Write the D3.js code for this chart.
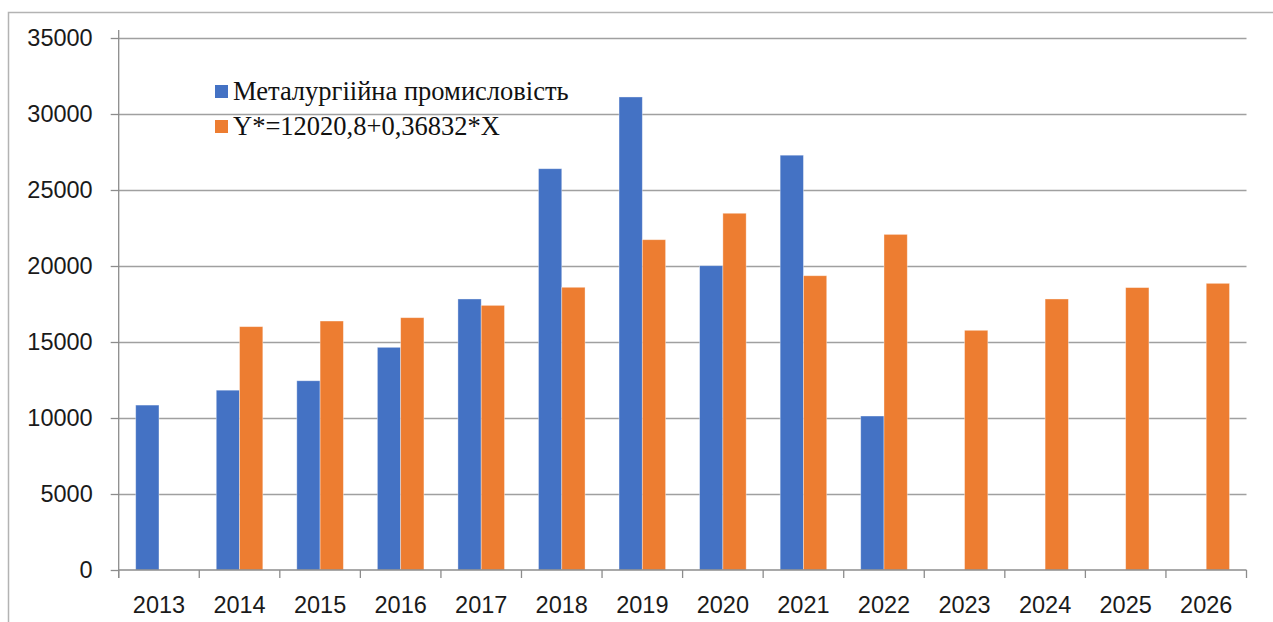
<!DOCTYPE html>
<html>
<head>
<meta charset="utf-8">
<script src="https://cdn.jsdelivr.net/npm/d3@7"></script>
<style>
  html, body { margin: 0; padding: 0; background: #ffffff; }
  svg { display: block; }
</style>
</head>
<body>
<svg id="chart" width="1273" height="622"></svg>
<script>
// ---- data ----
const years = ["2013","2014","2015","2016","2017","2018","2019","2020","2021","2022","2023","2024","2025","2026"];
const seriesNames = ["Металургіійна промисловість", "Y*=12020,8+0,36832*X"];
const actualValues = [10850, 11830, 12450, 14650, 17830, 26400, 31120, 20020, 27290, 10130, null, null, null, null];
const trendValues  = [null, 16010, 16380, 16600, 17410, 18600, 21730, 23470, 19360, 22080, 15770, 17830, 18580, 18860];
const yTicks = [0, 5000, 10000, 15000, 20000, 25000, 30000, 35000];
const seriesColors = ["#4472C4", "#ED7D31"];

// ---- layout ----
const svg = d3.select("#chart");
const W = 1273, H = 622;
const plot = { left: 118.7, right: 1246.5, top: 38, bottom: 570 };

// chart frame
svg.append("path")
  .attr("d", `M8.5,${H + 2} V12.5 H${W + 2}`)
  .attr("fill", "none")
  .attr("stroke", "#b3b3b3")
  .attr("stroke-width", 1.5);

const x0 = d3.scaleBand().domain(years).range([plot.left, plot.right]).padding(0);
const x1 = d3.scaleBand().domain([0, 1]).range([0, x0.bandwidth()]).paddingInner(0).paddingOuter(0.73);
const y = d3.scaleLinear().domain([0, 35000]).range([plot.bottom, plot.top]);

// gridlines
svg.append("g").selectAll("line").data(yTicks.filter(t => t > 0)).join("line")
  .attr("x1", plot.left).attr("x2", plot.right)
  .attr("y1", d => Math.round(y(d)) + 0.5).attr("y2", d => Math.round(y(d)) + 0.5)
  .attr("stroke", "#a0a0a0").attr("stroke-width", 1.3);

// bars
const rows = years.map((yr, i) => ({ yr, vals: [actualValues[i], trendValues[i]] }));
const g = svg.append("g");
rows.forEach(r => {
  r.vals.forEach((v, s) => {
    if (v == null) return;
    g.append("rect")
      .attr("x", x0(r.yr) + x1(s))
      .attr("y", y(v))
      .attr("width", x1.bandwidth())
      .attr("height", y(0) - y(v))
      .attr("fill", seriesColors[s])
      .attr("stroke", "rgba(255,255,255,0.45)")
      .attr("stroke-width", 0.8);
  });
});

// y axis
const yAxis = d3.axisLeft(y).tickValues(yTicks).tickSize(8).tickPadding(18).tickFormat(d3.format("d"));
const ya = svg.append("g").attr("transform", `translate(${plot.left},0)`).call(yAxis);
ya.select(".domain").attr("stroke", "#8c8c8c").attr("stroke-width", 1.3).attr("d", `M-0,${plot.bottom + 8}V${plot.top - 8}`);
ya.selectAll(".tick line").attr("stroke", "#8c8c8c").attr("stroke-width", 1.3);
ya.selectAll(".tick text")
  .attr("font-family", "'Liberation Sans', Arial, sans-serif")
  .attr("font-size", 23.5)
  .attr("fill", "#1a1a1a");

// x axis
const xa = svg.append("g").attr("transform", `translate(0,${plot.bottom})`);
xa.append("line").attr("x1", plot.left).attr("x2", plot.right).attr("y1", 0).attr("y2", 0)
  .attr("stroke", "#8c8c8c").attr("stroke-width", 1.3);
const bounds = years.map(d => x0(d)).concat([x0.range()[1]]);
xa.selectAll("line.tk").data(bounds).join("line").attr("class", "tk")
  .attr("x1", d => d).attr("x2", d => d).attr("y1", 0).attr("y2", 8)
  .attr("stroke", "#8c8c8c").attr("stroke-width", 1.3);
xa.selectAll("text").data(years).join("text")
  .attr("x", d => x0(d) + x0.bandwidth() / 2)
  .attr("y", 43)
  .attr("text-anchor", "middle")
  .attr("font-family", "'Liberation Sans', Arial, sans-serif")
  .attr("font-size", 23.5)
  .attr("fill", "#1a1a1a")
  .text(d => d);

// legend
const leg = svg.append("g");
seriesNames.forEach((name, i) => {
  const yy = 100 + i * 35;
  leg.append("rect").attr("x", 215).attr("y", yy - 15).attr("width", 13).attr("height", 13).attr("fill", seriesColors[i]);
  leg.append("text").attr("x", 233).attr("y", yy)
    .attr("font-family", "'Liberation Serif', 'Times New Roman', serif")
    .attr("font-size", 26.5)
    .attr("fill", "#111")
    .text(name);
});
</script>
</body>
</html>
